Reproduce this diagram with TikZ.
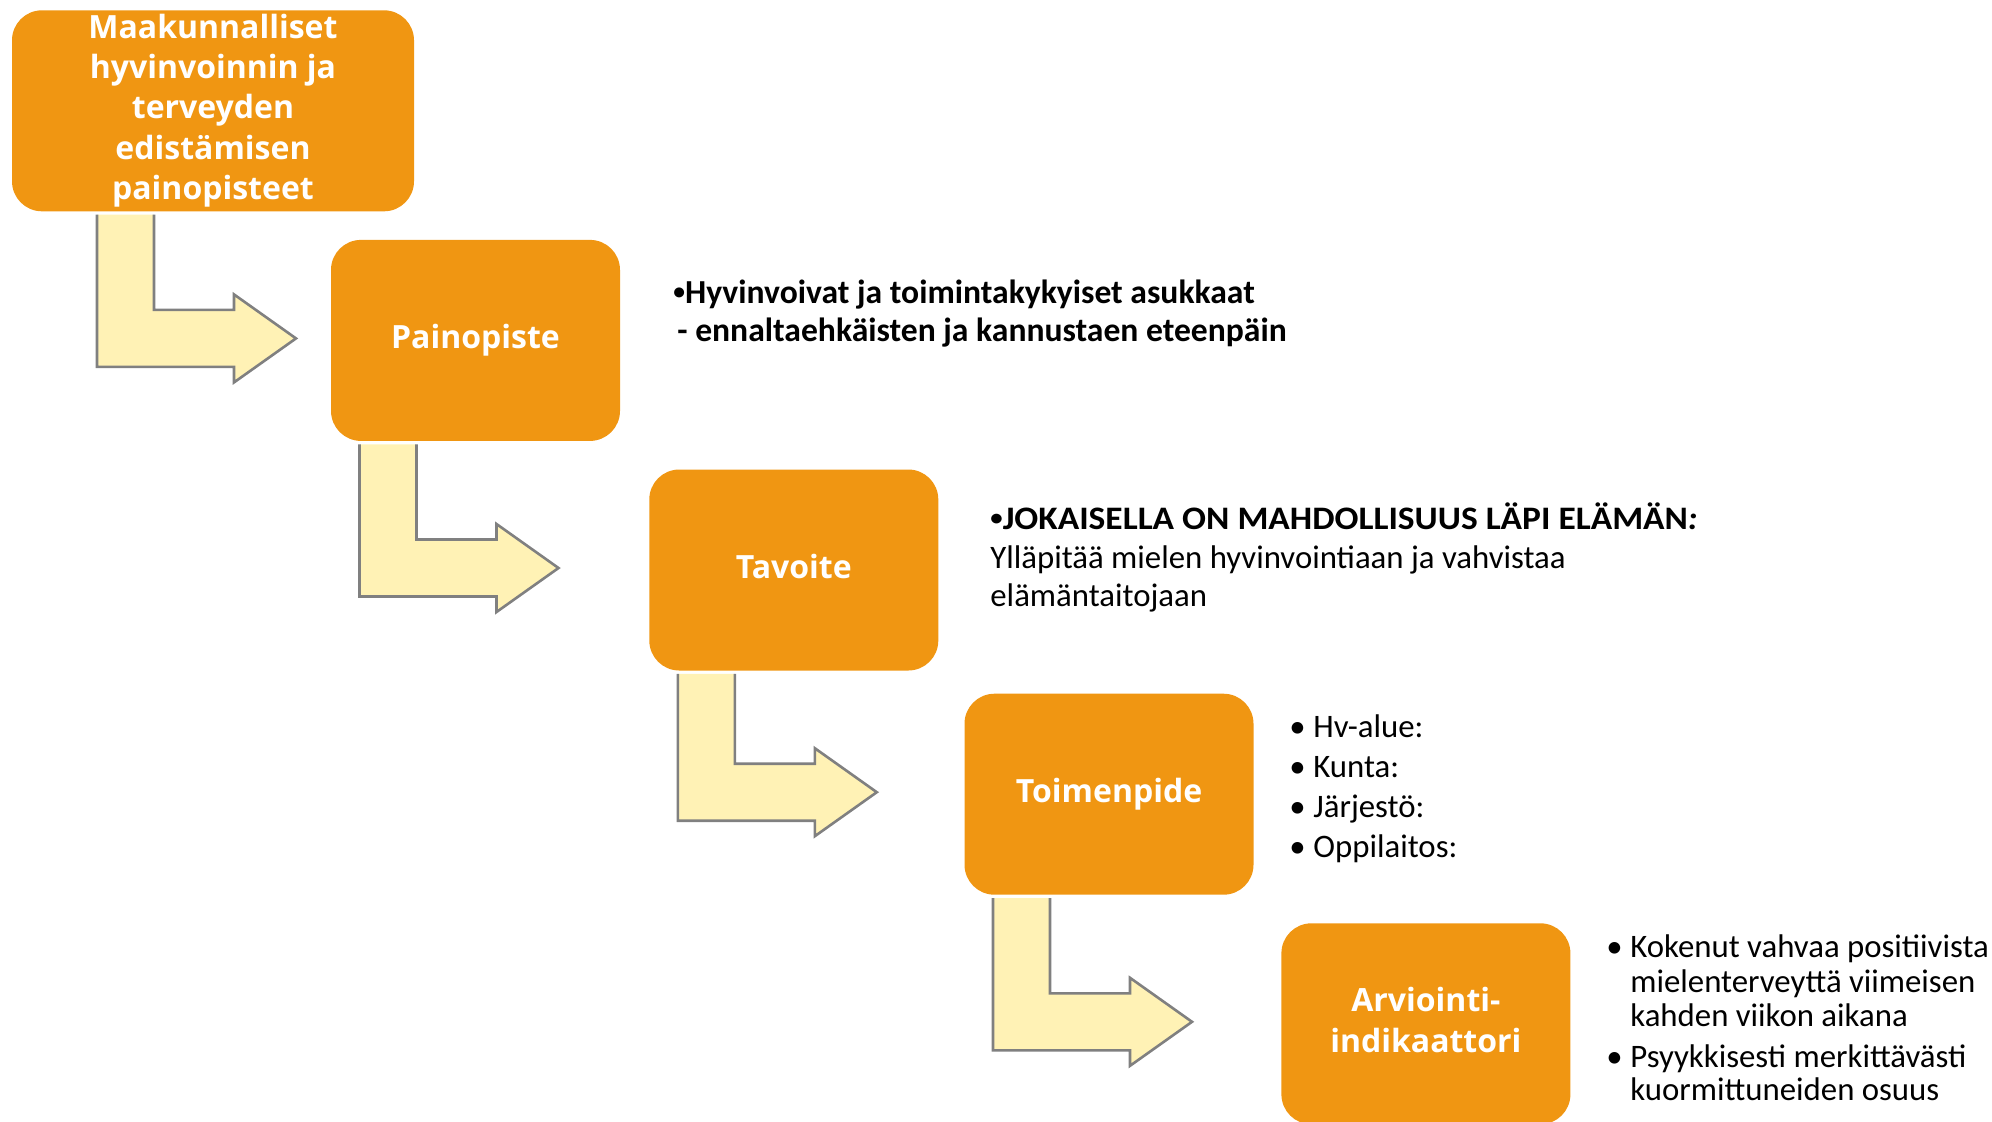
\documentclass[tikz,border=0pt]{standalone}
\usepackage{fontspec}
\setmainfont{Carlito}
\newfontfamily\titlefont{Open Sans}
\usetikzlibrary{calc}
\definecolor{boxorange}{RGB}{240,150,18}
\definecolor{arrowfill}{RGB}{255,242,181}
\definecolor{arrowline}{RGB}{128,128,128}
\newcommand{\bstrut}{\rule[-4pt]{0pt}{15pt}}
\newcommand{\smallbullet}{\raisebox{0.1em}{\scalebox{0.7}{•}}}
\newcommand{\bendarrow}[2]{%
    \coordinate (s) at ($(#1.south)+(-116,3)$);
    \coordinate (m) at ($(s |- #2.west)+(0,-2)$);
    \path[fill=arrowfill] (s) -- ($(s)+(57,0)$) -- ($(m)+(57,-28.5)$) -- ($(m)+(137,-28.5)$)
        -- ($(m)+(137,-44)$) -- ($(m)+(199,0)$) -- ($(m)+(137,44)$) -- ($(m)+(137,28.5)$)
        -- ($(m)+(0,28.5)$) -- cycle;
    \draw[arrowline] ($(s)+(57,0)$) -- ($(m)+(57,-28.5)$) -- ($(m)+(137,-28.5)$)
        -- ($(m)+(137,-44)$) -- ($(m)+(199,0)$) -- ($(m)+(137,44)$) -- ($(m)+(137,28.5)$)
        -- ($(m)+(0,28.5)$) -- (s);
}
\tikzset{
    stepbox/.style = {rounded corners=15pt, fill=boxorange, text=white, inner sep=0pt,
        minimum width=144.5pt, minimum height=100.5pt, align=center,
        font=\titlefont\bfseries\fontsize{16pt}{20.2pt}\selectfont,
        execute at begin node=\bstrut, execute at end node=\bstrut},
    arrowline/.style = {draw=arrowline, line width=1.3pt, line join=miter},
    bodytext/.style = {anchor=base west, inner sep=0pt, font=\fontsize{16.4pt}{19pt}\selectfont},
    boldtext/.style = {bodytext, font=\bfseries\fontsize{16.8pt}{19pt}\selectfont}
}

\begin{document}
\begin{tikzpicture}[x=0.5pt,y=-0.5pt]
    %\draw[help lines,step=100] (0,0) grid (1992,1121);
    \useasboundingbox (0,0) rectangle (1992,1121);

    \node[stepbox, minimum width=201pt] (painopisteet) at (213,110.8)
        {Maakunnalliset\\hyvinvoinnin ja\\terveyden\\edistämisen\\painopisteet};
    \node[stepbox] (painopiste) at (475.5,340.4) {Painopiste};
    \node[stepbox] (tavoite) at (793.8,570) {Tavoite};
    \node[stepbox] (toimenpide) at (1109,794.2) {Toimenpide};
    \node[stepbox] (arviointi) at (1425.9,1023.8) {Arviointi-\\indikaattori};

    \foreach \a/\b in {painopisteet/painopiste, painopiste/tavoite,
        tavoite/toimenpide, toimenpide/arviointi}
        \bendarrow{\a}{\b};

    \node[boldtext] (pp1) at (673,303) {\smallbullet Hyvinvoivat ja toimintakykyiset asukkaat};
    \node[boldtext] (pp2) at (677,341.5) {- ennaltaehkäisten ja kannustaen eteenpäin};

    \node[bodytext] (tv1) at (990,529)
        {\scalebox{1.08}[1]{\bfseries\smallbullet JOKAISELLA ON MAHDOLLISUUS LÄPI ELÄMÄN\textit{:}}};
    \node[bodytext] (tv2) at (990,568) {Ylläpitää mielen hyvinvointiaan ja vahvistaa};
    \node[bodytext] (tv3) at (990,606) {elämäntaitojaan};

    \foreach \t [count=\i] in {Hv-alue:, Kunta:, Järjestö:, Oppilaitos:}
        \node[bodytext] (tp\i) at (1289,697+40*\i) {\makebox[12pt][l]{•}\t};

    \node[bodytext] (ai1) at (1606,957) {\makebox[12pt][l]{•}Kokenut vahvaa positiivista};
    \node[bodytext] (ai2) at (1630,992) {mielenterveyttä viimeisen};
    \node[bodytext] (ai3) at (1630,1026) {kahden viikon aikana};
    \node[bodytext] (ai4) at (1606,1067) {\makebox[12pt][l]{•}Psyykkisesti merkittävästi};
    \node[bodytext] (ai5) at (1630,1100) {kuormittuneiden osuus};
\end{tikzpicture}
\end{document}
